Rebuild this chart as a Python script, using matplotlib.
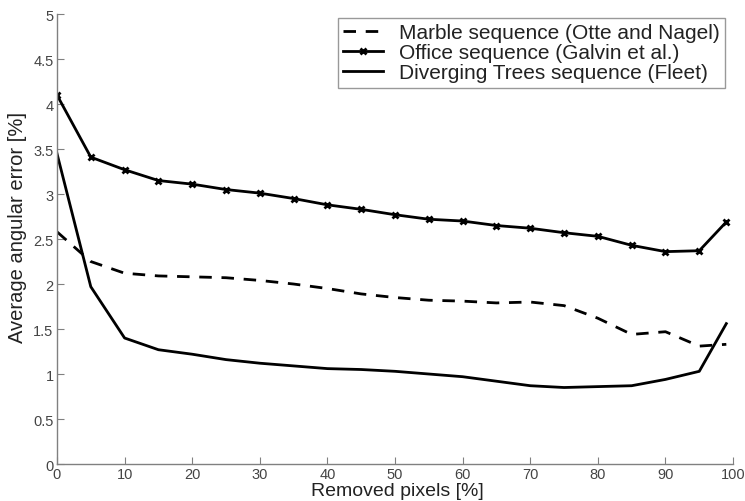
import matplotlib
matplotlib.use("Agg")
import matplotlib.pyplot as plt

# --- Data ---
removed = [0, 5, 10, 15, 20, 25, 30, 35, 40, 45, 50, 55, 60, 65, 70, 75, 80, 85, 90, 95, 99]

marble = [2.58, 2.25, 2.12, 2.09, 2.08, 2.07, 2.04, 2.00, 1.95, 1.89, 1.85,
          1.82, 1.81, 1.79, 1.80, 1.76, 1.62, 1.44, 1.47, 1.31, 1.33]
office = [4.10, 3.41, 3.27, 3.15, 3.11, 3.05, 3.01, 2.95, 2.88, 2.83, 2.77,
          2.72, 2.70, 2.65, 2.62, 2.57, 2.53, 2.43, 2.36, 2.37, 2.69]
trees = [3.45, 1.97, 1.40, 1.27, 1.22, 1.16, 1.12, 1.09, 1.06, 1.05, 1.03,
         1.00, 0.97, 0.92, 0.87, 0.85, 0.86, 0.87, 0.94, 1.03, 1.56]

labels = ["Marble sequence (Otte and Nagel)",
          "Office sequence (Galvin et al.)",
          "Diverging Trees sequence (Fleet)"]

xticks = list(range(0, 101, 10))
yticks = [0, 0.5, 1, 1.5, 2, 2.5, 3, 3.5, 4, 4.5, 5]
ytick_labels = ["0", "0.5", "1", "1.5", "2", "2.5", "3", "3.5", "4", "4.5", "5"]

# --- Styling ---
plt.rcParams["font.family"] = ["Liberation Sans", "DejaVu Sans"]
GREY = "#808080"
TEXT = "#222222"

fig = plt.figure(figsize=(7.45, 5.02), dpi=100)
ax = fig.add_axes([0.0765, 0.0737, 0.9075, 0.8963])

ax.plot(removed, marble, "k--", lw=2.0, dashes=(4.5, 3.5), label=labels[0])
ax.plot(removed, office, "k-", lw=2.0, marker="x", ms=5, mew=2.0, label=labels[1])
ax.plot(removed, trees, "k-", lw=2.0, label=labels[2])

ax.set_xlim(0, 100)
ax.set_ylim(0, 5)
ax.set_xticks(xticks)
ax.set_yticks(yticks)
ax.set_yticklabels(ytick_labels)

for side in ("top", "right"):
    ax.spines[side].set_visible(False)
for side in ("left", "bottom"):
    ax.spines[side].set_color(GREY)
    ax.spines[side].set_linewidth(1.0)
ax.tick_params(direction="in", length=5, color=GREY, labelcolor="#444444",
               labelsize=10.5, pad=2.5)

ax.set_xlabel("Removed pixels [%]", fontsize=14, color=TEXT, va="top")
ax.xaxis.set_label_coords(0.504, -0.04)
ax.set_ylabel("Average angular error [%]", fontsize=14.5, color=TEXT)
ax.yaxis.set_label_coords(-0.044, 0.527)

leg = ax.legend(loc="upper right", bbox_to_anchor=(0.988, 0.991), fontsize=15,
                frameon=True, fancybox=False, handlelength=1.95,
                borderpad=0.25, labelspacing=0.05, handletextpad=0.75,
                borderaxespad=0)
leg.get_frame().set_edgecolor(GREY)
leg.get_frame().set_linewidth(1.0)
for t in leg.get_texts():
    t.set_color(TEXT)

fig.savefig("out.png", dpi=100)
